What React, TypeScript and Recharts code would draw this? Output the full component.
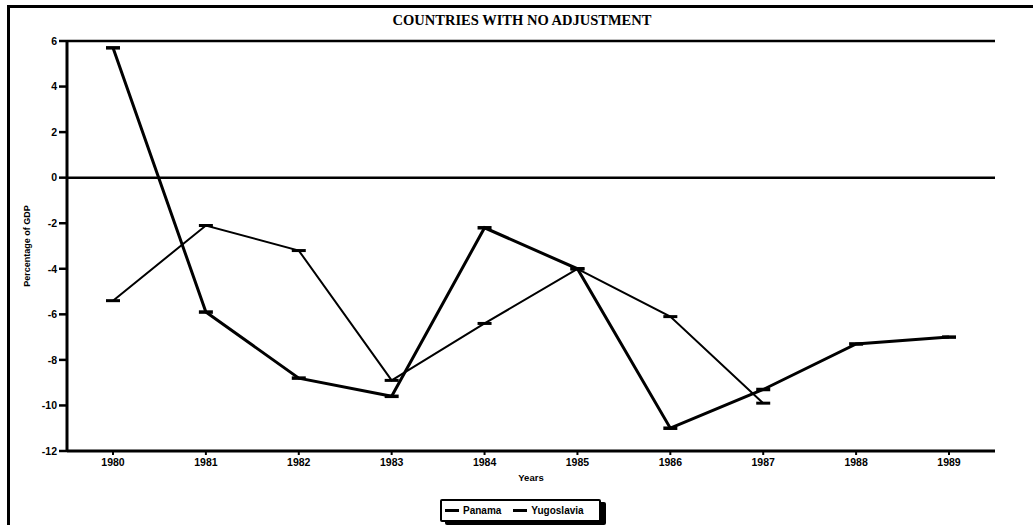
import { LineChart, Line, XAxis, YAxis, ReferenceLine } from "recharts"

const years = ["1980", "1981", "1982", "1983", "1984", "1985", "1986", "1987", "1988", "1989"]
const panama = [5.7, -5.9, -8.8, -9.6, -2.2, -4.0, -11.0, -9.3, -7.3, -7.0]
const yugoslavia = [-5.4, -2.1, -3.2, -8.9, -6.4, -4.0, -6.1, -9.9, null, null]
const yTicks = [-12, -10, -8, -6, -4, -2, 0, 2, 4, 6]

const chartData = years.map((year, i) => ({
  year,
  panama: panama[i],
  yugoslavia: yugoslavia[i],
}))

const sans = "Liberation Sans, Arial, sans-serif"
const tickFont = { fontSize: 10.5, fontWeight: 700, fill: "#000", fontFamily: sans }

// short horizontal dash drawn at every data point, like the original plot
function DashMarker(props: any) {
  const { cx, cy, index, width } = props
  if (cx == null || cy == null) return <g key={index} />
  return (
    <line
      key={index}
      x1={cx - 7}
      x2={cx + 7}
      y1={cy}
      y2={cy}
      stroke="#000"
      strokeWidth={width}
    />
  )
}

function LegendBox() {
  const item = (label: string) => (
    <span style={{ display: "inline-flex", alignItems: "center", marginRight: 12 }}>
      <span style={{ display: "inline-block", width: 14, height: 2.5, background: "#000", marginRight: 4 }} />
      {label}
    </span>
  )
  return (
    <div
      style={{
        position: "absolute",
        left: 440,
        top: 499,
        width: 154,
        height: 19,
        border: "2.5px solid #000",
        borderRadius: 2,
        boxShadow: "5px 3px 0 #000",
        background: "#fff",
        display: "flex",
        alignItems: "center",
        paddingLeft: 3,
        fontFamily: sans,
        fontWeight: 700,
        fontSize: 10,
        color: "#000",
      }}
    >
      {item("Panama")}
      {item("Yugoslavia")}
    </div>
  )
}

export default function App() {
  return (
    <div style={{ position: "fixed", left: 0, top: 0, width: 1033, height: 525, background: "#fff", overflow: "hidden" }}>
      <div style={{ position: "absolute", left: 0, top: 0 }}>
        <LineChart
          width={1033}
          height={525}
          data={chartData}
          margin={{ top: 41, right: 38, left: 7, bottom: 44 }}
        >
          <XAxis
            dataKey="year"
            padding={{ left: 46, right: 46 }}
            height={30}
            axisLine={{ stroke: "#000", strokeWidth: 3 }}
            tickLine={{ stroke: "#000", strokeWidth: 2 }}
            tickSize={4}
            tickMargin={4}
            tick={tickFont}
            label={{
              value: "Years",
              position: "insideBottom",
              offset: 0,
              style: { fontSize: 9.5, fontWeight: 700, fill: "#000", fontFamily: sans },
            }}
          />
          <YAxis
            domain={[-12, 6]}
            ticks={yTicks}
            width={60}
            interval={0}
            axisLine={{ stroke: "#000", strokeWidth: 3 }}
            tickLine={{ stroke: "#000", strokeWidth: 2.5 }}
            tickSize={8}
            tickMargin={2}
            tick={tickFont}
            label={{
              value: "Percentage of GDP",
              angle: -90,
              position: "insideLeft",
              offset: 20,
              style: { textAnchor: "middle", fontSize: 9, fontWeight: 700, fill: "#000", fontFamily: sans },
            }}
          />
          <YAxis
            yAxisId="right"
            orientation="right"
            domain={[-12, 6]}
            width={0}
            tick={false}
            tickLine={false}
            axisLine={{ stroke: "#000", strokeWidth: 2.5 }}
          />
          {/* top edge of the plot frame */}
          <ReferenceLine y={6} stroke="#000" strokeWidth={2.5} />
          <ReferenceLine y={0} stroke="#000" strokeWidth={2.5} />
          <Line
            type="linear"
            dataKey="panama"
            stroke="#000"
            strokeWidth={3}
            dot={(p: any) => <DashMarker {...p} width={3.5} />}
            activeDot={false}
            isAnimationActive={false}
          />
          <Line
            type="linear"
            dataKey="yugoslavia"
            stroke="#000"
            strokeWidth={2}
            dot={(p: any) => <DashMarker {...p} width={3} />}
            activeDot={false}
            isAnimationActive={false}
          />
        </LineChart>
      </div>
      {/* outer frame: top and left edges of the scanned page */}
      <div style={{ position: "absolute", left: 7, top: 5, width: 1026, height: 3, background: "#000" }} />
      <div style={{ position: "absolute", left: 7, top: 5, width: 2.5, height: 520, background: "#000" }} />
      <div
        style={{
          position: "absolute",
          left: 0,
          width: 1044,
          top: 12,
          textAlign: "center",
          fontFamily: "Liberation Serif, Times New Roman, serif",
          fontWeight: 700,
          fontSize: 14.5,
          color: "#000",
        }}
      >
        COUNTRIES WITH NO ADJUSTMENT
      </div>
      <LegendBox />
    </div>
  )
}
